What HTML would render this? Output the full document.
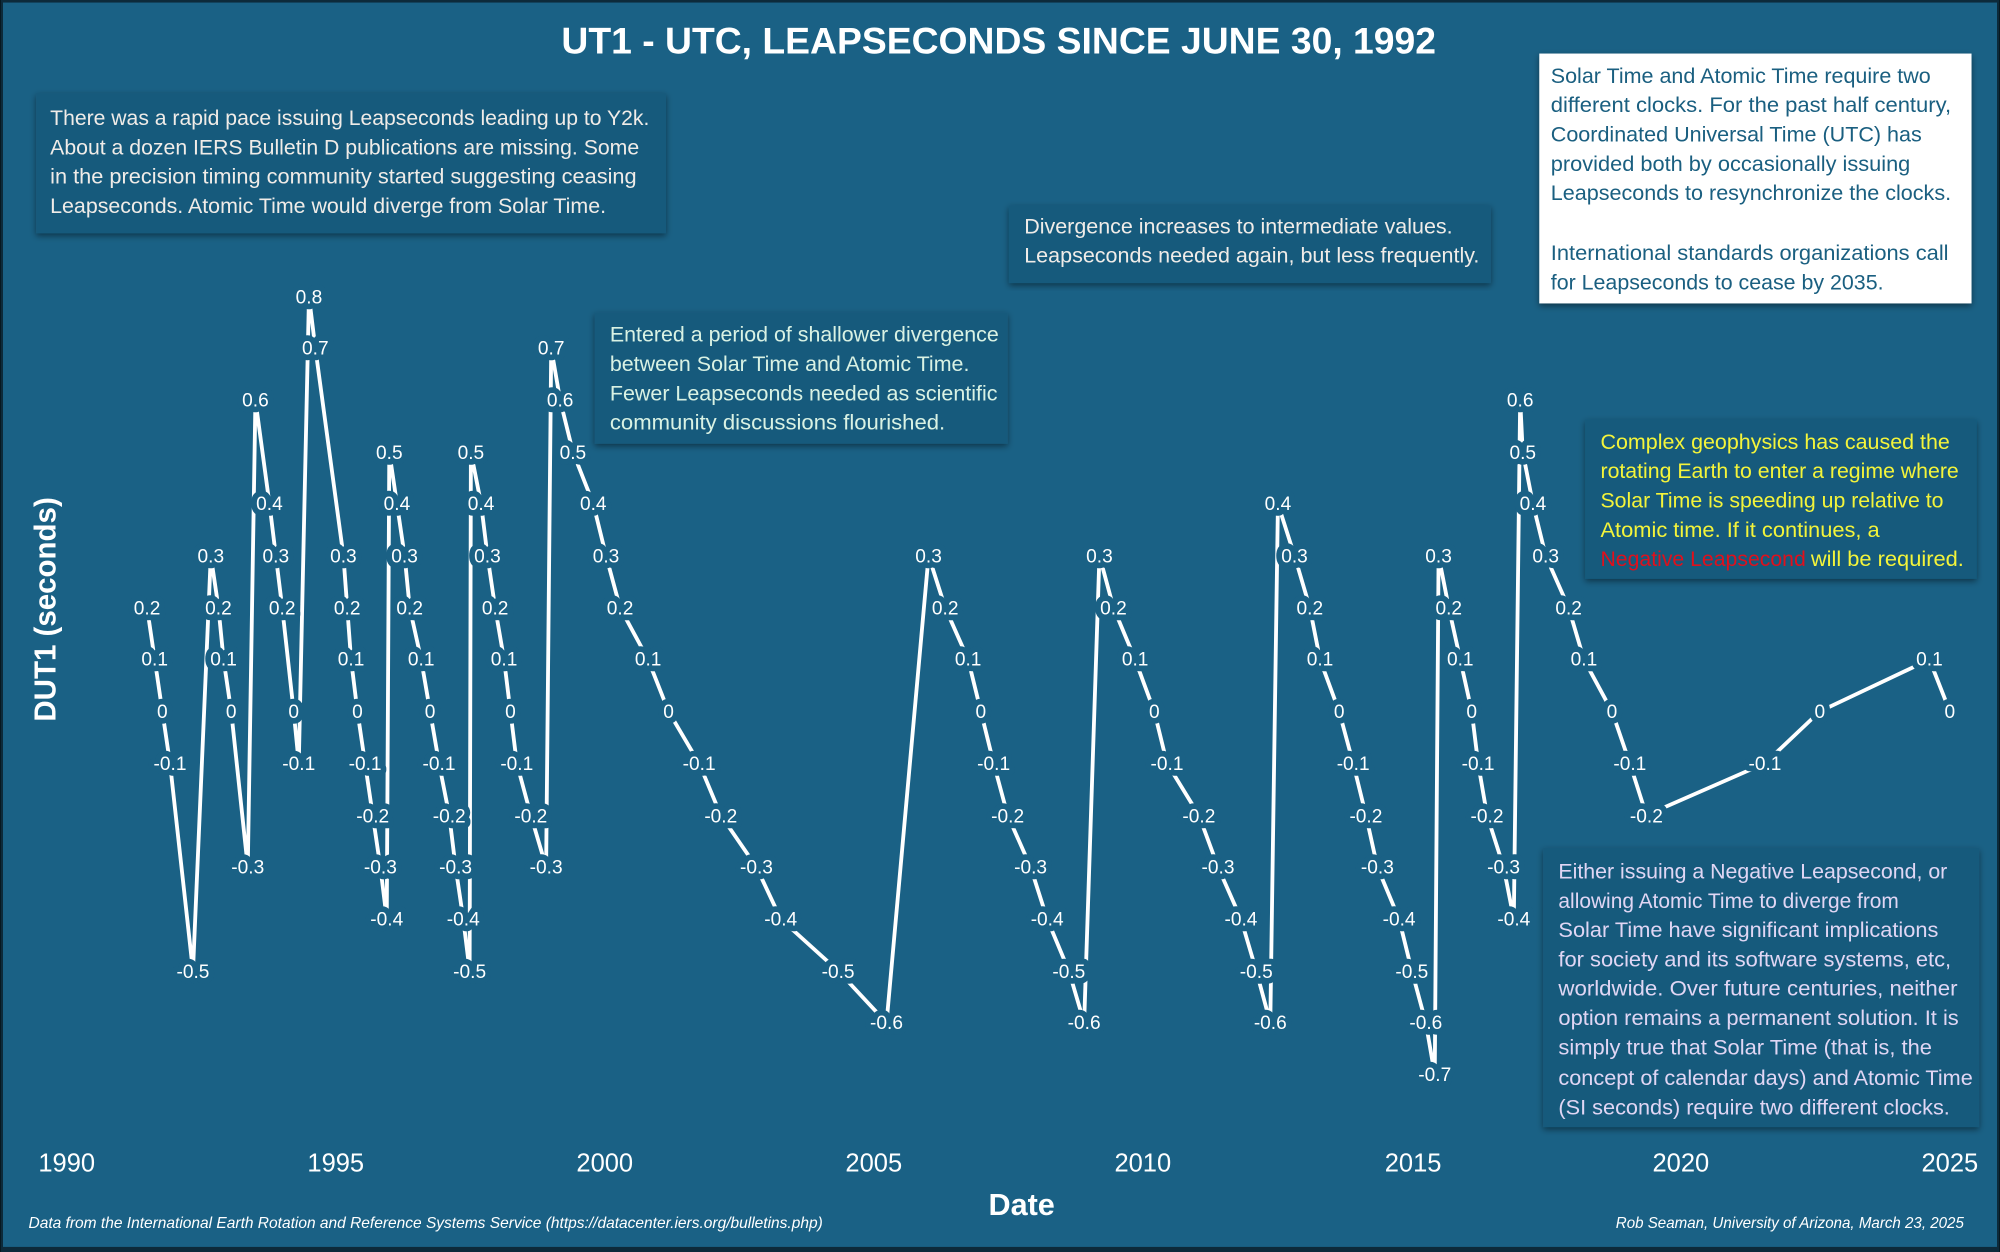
<!DOCTYPE html>
<html><head><meta charset="utf-8"><style>
html,body{margin:0;padding:0;background:#000}
svg{display:block}
text{font-family:"Liberation Sans",sans-serif}
.l{font-size:15px;fill:#fff;text-anchor:middle;paint-order:stroke;stroke:#1a6185;stroke-width:9px;stroke-linejoin:round}
.b{font-size:17px}
</style></head><body>
<svg width="2000" height="1252" viewBox="0 0 1568 982" xmlns="http://www.w3.org/2000/svg">
<defs><filter id="sh" x="-5%" y="-5%" width="110%" height="115%"><feDropShadow dx="0" dy="2" stdDeviation="2.5" flood-color="#000" flood-opacity="0.45"/></filter></defs>
<rect x="0" y="0" width="1568" height="982" fill="#0d2a3a"/>
<rect x="2" y="2" width="1564" height="976" fill="#1a6185"/>
<text x="783" y="42" font-size="29" font-weight="bold" fill="#fff" text-anchor="middle" textLength="686" lengthAdjust="spacingAndGlyphs">UT1 - UTC, LEAPSECONDS SINCE JUNE 30, 1992</text>

<polyline fill="none" stroke="#fff" stroke-width="3" stroke-linejoin="miter" points="115,476.6 121,517.3 127,558 133,598.7 151,761.5 165,435.9 171,476.6 175,517.3 181,558 194,680.1 200,313.8 211,395.2 216,435.9 221,476.6 230,558 234,598.7 242,232.4 247,273.1 269,435.9 272,476.6 275,517.3 280,558 286,598.7 292,639.4 298,680.1 303,720.8 305,354.5 311,395.2 317,435.9 321,476.6 330,517.3 337,558 344,598.7 352,639.4 357,680.1 363,720.8 368,761.5 369,354.5 377,395.2 382,435.9 388,476.6 395,517.3 400,558 405,598.7 416,639.4 428,680.1 432,273.1 439,313.8 449,354.5 465,395.2 475,435.9 486,476.6 508,517.3 524,558 548,598.7 565,639.4 593,680.1 612,720.8 657,761.5 695,802.2 728,435.9 741,476.6 759,517.3 769,558 779,598.7 790,639.4 808,680.1 821,720.8 838,761.5 850,802.2 862,435.9 873,476.6 890,517.3 905,558 915,598.7 940,639.4 955,680.1 973,720.8 985,761.5 996,802.2 1002,395.2 1015,435.9 1027,476.6 1035,517.3 1050,558 1061,598.7 1071,639.4 1080,680.1 1097,720.8 1107,761.5 1118,802.2 1125,842.9 1128,435.9 1136,476.6 1145,517.3 1154,558 1159,598.7 1166,639.4 1179,680.1 1187,720.8 1192,313.8 1194,354.5 1202,395.2 1212,435.9 1230,476.6 1242,517.3 1264,558 1278,598.7 1291,639.4 1384,598.7 1427,558 1513,517.3 1529,558"/>

<g class="l">
<text x="115" y="482">0.2</text><text x="121" y="522">0.1</text><text x="127" y="563">0</text><text x="133" y="604">-0.1</text><text x="151" y="767">-0.5</text>
<text x="165" y="441">0.3</text><text x="171" y="482">0.2</text><text x="175" y="522">0.1</text><text x="181" y="563">0</text><text x="194" y="685">-0.3</text>
<text x="200" y="319">0.6</text><text x="211" y="400">0.4</text><text x="216" y="441">0.3</text><text x="221" y="482">0.2</text><text x="230" y="563">0</text><text x="234" y="604">-0.1</text>
<text x="242" y="238">0.8</text><text x="247" y="278">0.7</text><text x="269" y="441">0.3</text><text x="272" y="482">0.2</text><text x="275" y="522">0.1</text><text x="280" y="563">0</text><text x="286" y="604">-0.1</text><text x="292" y="645">-0.2</text><text x="298" y="685">-0.3</text><text x="303" y="726">-0.4</text>
<text x="305" y="360">0.5</text><text x="311" y="400">0.4</text><text x="317" y="441">0.3</text><text x="321" y="482">0.2</text><text x="330" y="522">0.1</text><text x="337" y="563">0</text><text x="344" y="604">-0.1</text><text x="352" y="645">-0.2</text><text x="357" y="685">-0.3</text><text x="363" y="726">-0.4</text><text x="368" y="767">-0.5</text>
<text x="369" y="360">0.5</text><text x="377" y="400">0.4</text><text x="382" y="441">0.3</text><text x="388" y="482">0.2</text><text x="395" y="522">0.1</text><text x="400" y="563">0</text><text x="405" y="604">-0.1</text><text x="416" y="645">-0.2</text><text x="428" y="685">-0.3</text>
<text x="432" y="278">0.7</text><text x="439" y="319">0.6</text><text x="449" y="360">0.5</text><text x="465" y="400">0.4</text><text x="475" y="441">0.3</text><text x="486" y="482">0.2</text><text x="508" y="522">0.1</text><text x="524" y="563">0</text><text x="548" y="604">-0.1</text><text x="565" y="645">-0.2</text><text x="593" y="685">-0.3</text><text x="612" y="726">-0.4</text><text x="657" y="767">-0.5</text><text x="695" y="807">-0.6</text>
<text x="728" y="441">0.3</text><text x="741" y="482">0.2</text><text x="759" y="522">0.1</text><text x="769" y="563">0</text><text x="779" y="604">-0.1</text><text x="790" y="645">-0.2</text><text x="808" y="685">-0.3</text><text x="821" y="726">-0.4</text><text x="838" y="767">-0.5</text><text x="850" y="807">-0.6</text>
<text x="862" y="441">0.3</text><text x="873" y="482">0.2</text><text x="890" y="522">0.1</text><text x="905" y="563">0</text><text x="915" y="604">-0.1</text><text x="940" y="645">-0.2</text><text x="955" y="685">-0.3</text><text x="973" y="726">-0.4</text><text x="985" y="767">-0.5</text><text x="996" y="807">-0.6</text>
<text x="1002" y="400">0.4</text><text x="1015" y="441">0.3</text><text x="1027" y="482">0.2</text><text x="1035" y="522">0.1</text><text x="1050" y="563">0</text><text x="1061" y="604">-0.1</text><text x="1071" y="645">-0.2</text><text x="1080" y="685">-0.3</text><text x="1097" y="726">-0.4</text><text x="1107" y="767">-0.5</text><text x="1118" y="807">-0.6</text><text x="1125" y="848">-0.7</text>
<text x="1128" y="441">0.3</text><text x="1136" y="482">0.2</text><text x="1145" y="522">0.1</text><text x="1154" y="563">0</text><text x="1159" y="604">-0.1</text><text x="1166" y="645">-0.2</text><text x="1179" y="685">-0.3</text><text x="1187" y="726">-0.4</text>
<text x="1192" y="319">0.6</text><text x="1194" y="360">0.5</text><text x="1202" y="400">0.4</text><text x="1212" y="441">0.3</text><text x="1230" y="482">0.2</text><text x="1242" y="522">0.1</text><text x="1264" y="563">0</text><text x="1278" y="604">-0.1</text><text x="1291" y="645">-0.2</text><text x="1384" y="604">-0.1</text><text x="1427" y="563">0</text><text x="1513" y="522">0.1</text><text x="1529" y="563">0</text>
</g>

<g font-size="20" fill="#fff" text-anchor="middle">
<text x="52" y="919">1990</text><text x="263" y="919">1995</text><text x="474" y="919">2000</text><text x="685" y="919">2005</text><text x="896" y="919">2010</text><text x="1108" y="919">2015</text><text x="1318" y="919">2020</text><text x="1529" y="919">2025</text>
</g>
<text x="801" y="953" font-size="24" font-weight="bold" fill="#fff" text-anchor="middle">Date</text>
<text transform="translate(43,478) rotate(-90)" font-size="24" font-weight="bold" fill="#fff" text-anchor="middle" textLength="176" lengthAdjust="spacingAndGlyphs">DUT1 (seconds)</text>
<text x="22" y="963" font-size="12.5" font-style="italic" fill="#fff" textLength="623" lengthAdjust="spacingAndGlyphs">Data from the International Earth Rotation and Reference Systems Service (https://datacenter.iers.org/bulletins.php)</text>
<text x="1267" y="963" font-size="12.5" font-style="italic" fill="#fff" textLength="273" lengthAdjust="spacingAndGlyphs">Rob Seaman, University of Arizona, March 23, 2025</text>

<rect x="28" y="73" width="494" height="110" fill="#185a7c" filter="url(#sh)"/>
<g class="b" fill="#f0ece8" lengthAdjust="spacingAndGlyphs">
<text x="39" y="98" textLength="470" lengthAdjust="spacingAndGlyphs">There was a rapid pace issuing Leapseconds leading up to Y2k.</text>
<text x="39" y="121" textLength="462" lengthAdjust="spacingAndGlyphs">About a dozen IERS Bulletin D publications are missing. Some</text>
<text x="39" y="144" textLength="460" lengthAdjust="spacingAndGlyphs">in the precision timing community started suggesting ceasing</text>
<text x="39" y="167" textLength="436" lengthAdjust="spacingAndGlyphs">Leapseconds. Atomic Time would diverge from Solar Time.</text>
</g>

<rect x="791" y="161" width="378" height="61" fill="#185a7c" filter="url(#sh)"/>
<g class="b" fill="#f0ece8">
<text x="803" y="183" textLength="336" lengthAdjust="spacingAndGlyphs">Divergence increases to intermediate values.</text>
<text x="803" y="206" textLength="357" lengthAdjust="spacingAndGlyphs">Leapseconds needed again, but less frequently.</text>
</g>

<rect x="466" y="245" width="324" height="103" fill="#185a7c" filter="url(#sh)"/>
<g class="b" fill="#d9f2e4">
<text x="478" y="268" textLength="305" lengthAdjust="spacingAndGlyphs">Entered a period of shallower divergence</text>
<text x="478" y="291" textLength="282" lengthAdjust="spacingAndGlyphs">between Solar Time and Atomic Time.</text>
<text x="478" y="314" textLength="304" lengthAdjust="spacingAndGlyphs">Fewer Leapseconds needed as scientific</text>
<text x="478" y="337" textLength="263" lengthAdjust="spacingAndGlyphs">community discussions flourished.</text>
</g>

<rect x="1207" y="42" width="339" height="196" fill="#fff" filter="url(#sh)"/>
<g class="b" fill="#1a5f80">
<text x="1216" y="65" textLength="298" lengthAdjust="spacingAndGlyphs">Solar Time and Atomic Time require two</text>
<text x="1216" y="88" textLength="314" lengthAdjust="spacingAndGlyphs">different clocks. For the past half century,</text>
<text x="1216" y="111" textLength="291" lengthAdjust="spacingAndGlyphs">Coordinated Universal Time (UTC) has</text>
<text x="1216" y="134" textLength="282" lengthAdjust="spacingAndGlyphs">provided both by occasionally issuing</text>
<text x="1216" y="157" textLength="314" lengthAdjust="spacingAndGlyphs">Leapseconds to resynchronize the clocks.</text>
<text x="1216" y="204" textLength="312" lengthAdjust="spacingAndGlyphs">International standards organizations call</text>
<text x="1216" y="227" textLength="261" lengthAdjust="spacingAndGlyphs">for Leapseconds to cease by 2035.</text>
</g>

<rect x="1243" y="329" width="307" height="125" fill="#185a7c" filter="url(#sh)"/>
<g class="b" fill="#f4f43a">
<text x="1255" y="352" textLength="274" lengthAdjust="spacingAndGlyphs">Complex geophysics has caused the</text>
<text x="1255" y="375" textLength="281" lengthAdjust="spacingAndGlyphs">rotating Earth to enter a regime where</text>
<text x="1255" y="398" textLength="269" lengthAdjust="spacingAndGlyphs">Solar Time is speeding up relative to</text>
<text x="1255" y="421" textLength="219" lengthAdjust="spacingAndGlyphs">Atomic time. If it continues, a</text>
<text x="1255" y="444" textLength="161" lengthAdjust="spacingAndGlyphs" fill="#e0101c">Negative Leapsecond</text>
<text x="1420" y="444" textLength="120" lengthAdjust="spacingAndGlyphs">will be required.</text>
</g>

<rect x="1210" y="665" width="342" height="219" fill="#185a7c" filter="url(#sh)"/>
<g class="b" fill="#e0d6f4">
<text x="1222" y="689" textLength="305" lengthAdjust="spacingAndGlyphs">Either issuing a Negative Leapsecond, or</text>
<text x="1222" y="712" textLength="267" lengthAdjust="spacingAndGlyphs">allowing Atomic Time to diverge from</text>
<text x="1222" y="735" textLength="298" lengthAdjust="spacingAndGlyphs">Solar Time have significant implications</text>
<text x="1222" y="758" textLength="308" lengthAdjust="spacingAndGlyphs">for society and its software systems, etc,</text>
<text x="1222" y="781" textLength="313" lengthAdjust="spacingAndGlyphs">worldwide. Over future centuries, neither</text>
<text x="1222" y="804" textLength="314" lengthAdjust="spacingAndGlyphs">option remains a permanent solution. It is</text>
<text x="1222" y="827" textLength="293" lengthAdjust="spacingAndGlyphs">simply true that Solar Time (that is, the</text>
<text x="1222" y="851" textLength="325" lengthAdjust="spacingAndGlyphs">concept of calendar days) and Atomic Time</text>
<text x="1222" y="874" textLength="307" lengthAdjust="spacingAndGlyphs">(SI seconds) require two different clocks.</text>
</g>
</svg>
</body></html>
